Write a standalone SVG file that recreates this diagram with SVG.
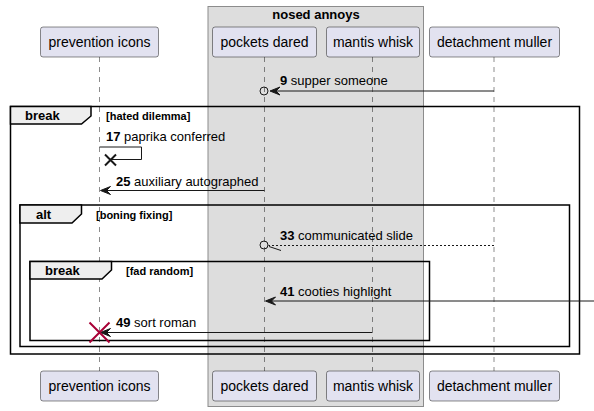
<svg xmlns="http://www.w3.org/2000/svg" width="594" height="411" viewBox="0 0 594 411">
<style>
text{font-family:"Liberation Sans",Arial,sans-serif;fill:#000}
.pbox{fill:#E2E2F0;stroke:#181818;stroke-width:0.5}
.pt{font-size:14px;text-anchor:middle}
.life{stroke:#181818;stroke-width:0.5;stroke-dasharray:5,5;fill:none}
.msg{stroke:#181818;stroke-width:1;fill:none}
.head{fill:#181818;stroke:#181818;stroke-width:1}
.dash{stroke-dasharray:2,2}
.ml{font-size:13px}
.num{font-weight:bold}
.frame{fill:none;stroke:#000;stroke-width:1.5}
.tab{fill:#EEEEEE;stroke:#000;stroke-width:1.5}
.fl{font-size:13px;font-weight:bold}
.cond{font-size:11px;font-weight:bold}
</style>
<g id="group-nosed-annoys">
<rect x="208" y="6.5" width="215.5" height="400" fill="#DDDDDD" stroke="#8C8C8C" stroke-width="1"/>
<text x="316" y="19" font-size="13" font-weight="bold" text-anchor="middle">nosed annoys</text>
</g>
<g id="lifelines">
<line class="life" x1="99.5" y1="57" x2="99.5" y2="371"/>
<line class="life" x1="264.5" y1="57" x2="264.5" y2="371"/>
<line class="life" x1="372.5" y1="57" x2="372.5" y2="371"/>
<line class="life" x1="494" y1="57" x2="494" y2="371"/>
</g>
<g id="prevention-icons">
<rect class="pbox" x="40.5" y="27" width="118" height="30" rx="2.5"/>
<text class="pt" x="99.5" y="47">prevention icons</text>
<rect class="pbox" x="40.5" y="371" width="118" height="30" rx="2.5"/>
<text class="pt" x="99.5" y="391">prevention icons</text>
</g>
<g id="pockets-dared">
<rect class="pbox" x="212.5" y="27" width="104" height="30" rx="2.5"/>
<text class="pt" x="264.5" y="47">pockets dared</text>
<rect class="pbox" x="212.5" y="371" width="104" height="30" rx="2.5"/>
<text class="pt" x="264.5" y="391">pockets dared</text>
</g>
<g id="mantis-whisk">
<rect class="pbox" x="326.5" y="27" width="93" height="30" rx="2.5"/>
<text class="pt" x="373" y="47">mantis whisk</text>
<rect class="pbox" x="326.5" y="371" width="93" height="30" rx="2.5"/>
<text class="pt" x="373" y="391">mantis whisk</text>
</g>
<g id="detachment-muller">
<rect class="pbox" x="429.5" y="27" width="130" height="30" rx="2.5"/>
<text class="pt" x="494.5" y="47">detachment muller</text>
<rect class="pbox" x="429.5" y="371" width="130" height="30" rx="2.5"/>
<text class="pt" x="494.5" y="391">detachment muller</text>
</g>
<g id="frame-break-hated-dilemma">
<rect class="frame" x="10.5" y="106.5" width="569" height="247.5"/>
<path class="tab" d="M10.5,106.5 L91,106.5 L91,116 L81.5,124 L10.5,124 Z"/>
<text class="fl" x="25" y="120">break</text>
<text class="cond" x="106" y="120">[hated dilemma]</text>
</g>
<g id="frame-alt-boning-fixing">
<rect class="frame" x="20" y="205" width="549.5" height="141.5"/>
<path class="tab" d="M20,205 L81.5,205 L81.5,214 L72,223 L20,223 Z"/>
<text class="fl" x="36" y="219">alt</text>
<text class="cond" x="96" y="219">[boning fixing]</text>
</g>
<g id="frame-break-fad-random">
<rect class="frame" x="30" y="261.5" width="399.5" height="79"/>
<path class="tab" d="M30,261.5 L111.5,261.5 L111.5,270 L102,279 L30,279 Z"/>
<text class="fl" x="45" y="275">break</text>
<text class="cond" x="126" y="275">[fad random]</text>
</g>
<g id="connectors">
<g id="msg-9">
<line class="msg" x1="494" y1="91" x2="272" y2="91"/>
<circle cx="264" cy="91" r="4" fill="none" stroke="#181818" stroke-width="1"/>
<polygon class="head" points="270,91 280,87 276,91 280,95"/>
<text class="ml" x="280" y="85"><tspan class="num">9</tspan> supper someone</text>
</g>
<g id="msg-17">
<path class="msg" d="M99.5,147 L141.5,147 L141.5,159.5 L110.5,159.5"/>
<path d="M105,154.5 L116,165.5 M116,154.5 L105,165.5" stroke="#181818" stroke-width="2" fill="none"/>
<text class="ml" x="106" y="141"><tspan class="num">17</tspan> paprika conferred</text>
</g>
<g id="msg-25">
<line class="msg" x1="264.5" y1="190.5" x2="102" y2="190.5"/>
<polygon class="head" points="100.5,190.5 110.5,186.5 106.5,190.5 110.5,194.5"/>
<text class="ml" x="116" y="186"><tspan class="num">25</tspan> auxiliary autographed</text>
</g>
<g id="msg-33">
<line class="msg dash" x1="494" y1="245.5" x2="268.5" y2="245.5"/>
<circle cx="264" cy="245" r="4" fill="none" stroke="#181818" stroke-width="1"/>
<path class="msg" d="M269,246.5 L281,250.5"/>
<text class="ml" x="280" y="240"><tspan class="num">33</tspan> communicated slide</text>
</g>
<g id="msg-41">
<line class="msg" x1="594" y1="301" x2="267" y2="301"/>
<polygon class="head" points="265.5,301 275.5,297 271.5,301 275.5,305"/>
<text class="ml" x="280" y="296"><tspan class="num">41</tspan> cooties highlight</text>
</g>
<g id="msg-49">
<line class="msg" x1="372.5" y1="332.5" x2="102" y2="332.5"/>
<polygon class="head" points="100.5,332.5 110.5,328.5 106.5,332.5 110.5,336.5"/>
<path d="M89.5,322.5 L109.5,342.5 M109.5,322.5 L89.5,342.5" stroke="#A80036" stroke-width="2" fill="none"/>
<text class="ml" x="116" y="327"><tspan class="num">49</tspan> sort roman</text>
</g>
</g>
</svg>
